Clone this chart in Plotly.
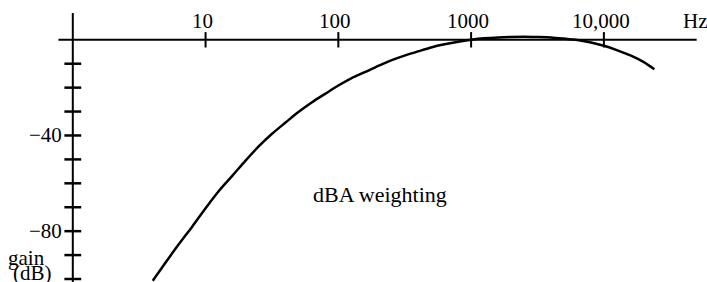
import math
import plotly.graph_objects as go

# ---- data ----
freq_hz = [4, 5, 6.3, 8, 10, 12.5, 16, 20, 25, 31.5, 40, 50, 63, 80, 100, 125, 160,
           200, 250, 315, 400, 500, 630, 800, 1000, 1250, 1600, 2000, 2500, 3150,
           4000, 5000, 6300, 8000, 10000, 12500, 16000, 20000, 24000]
gain_db = [-100.7, -93.1, -85.4, -77.8, -70.4, -63.4, -56.7, -50.5, -44.7, -39.4,
           -34.6, -30.2, -26.2, -22.5, -19.1, -16.1, -13.4, -10.9, -8.6, -6.6, -4.8,
           -3.2, -1.9, -0.8, 0.0, 0.6, 1.0, 1.2, 1.3, 1.2, 1.0, 0.5, -0.1, -1.1,
           -2.5, -4.3, -6.6, -9.3, -12.3]

x_tick_vals = [10, 100, 1000, 10000]
x_tick_text = ["10", "100", "1000", "10,000"]
y_tick_vals = [-10, -20, -30, -40, -50, -60, -70, -80, -90, -100]
y_label_vals = [-40, -80]
y_label_text = ["−40", "−80"]
x_axis_span = [0.78, 50000]     # Hz
y_axis_span = [-106, 11.2]      # dB

W, H = 707, 282
OFF = 0          # body margin removed below
FONT = "Liberation Serif"


def px(sx):
    return (sx - OFF) / W


def py(sy):
    return 1 - (sy - OFF) / H


fig = go.Figure()

# axes lines
fig.add_trace(go.Scatter(x=x_axis_span, y=[0, 0], mode="lines",
                         line=dict(color="black", width=2), hoverinfo="skip"))
fig.add_trace(go.Scatter(x=[1, 1], y=y_axis_span, mode="lines",
                         line=dict(color="black", width=2), hoverinfo="skip"))
# ticks crossing the axes
fig.add_trace(go.Scatter(x=x_tick_vals, y=[0] * len(x_tick_vals), mode="markers",
                         marker=dict(symbol="line-ns", size=11,
                                     line=dict(color="black", width=2)),
                         hoverinfo="skip"))
fig.add_trace(go.Scatter(x=[1] * len(y_tick_vals), y=y_tick_vals, mode="markers",
                         marker=dict(symbol="line-ew", size=12,
                                     line=dict(color="black", width=2.5)),
                         hoverinfo="skip"))
# the curve
fig.add_trace(go.Scatter(x=freq_hz, y=gain_db, mode="lines",
                         line=dict(color="black", width=2.5, shape="spline",
                                   smoothing=0.8),
                         hoverinfo="skip"))

annotations = []
for v, t in zip(x_tick_vals, x_tick_text):
    annotations.append(dict(x=math.log10(v), y=0, xref="x", yref="y", text=t,
                            showarrow=False, xanchor="center", yanchor="middle",
                            xshift=-3, yshift=19,
                            font=dict(family=FONT, size=21, color="black")))
annotations.append(dict(x=px(695), y=py(21), xref="paper", yref="paper",
                        text="Hz", showarrow=False, xanchor="center",
                        yanchor="middle",
                        font=dict(family=FONT, size=21, color="black")))
for v, t in zip(y_label_vals, y_label_text):
    annotations.append(dict(x=0, y=v, xref="x", yref="y", text=t,
                            showarrow=False, xanchor="right", yanchor="middle",
                            xshift=-9,
                            font=dict(family=FONT, size=21, color="black")))
annotations.append(dict(x=px(26), y=py(258), xref="paper", yref="paper",
                        text="gain", showarrow=False, xanchor="center",
                        yanchor="middle",
                        font=dict(family=FONT, size=21, color="black")))
annotations.append(dict(x=px(32), y=py(273), xref="paper", yref="paper",
                        text="(dB)", showarrow=False, xanchor="center",
                        yanchor="middle",
                        font=dict(family=FONT, size=21, color="black")))
annotations.append(dict(x=px(380), y=py(194), xref="paper", yref="paper",
                        text="dBA weighting", showarrow=False, xanchor="center",
                        yanchor="middle",
                        font=dict(family=FONT, size=22, color="black")))

# screen geometry of the reference
dec = 132.77      # px per decade
x1hz = 72.8       # screen x of 1 Hz
ppd = 2.392       # px per dB
y0db = 39.8       # screen y of 0 dB
r0 = (OFF - x1hz) / dec
r1 = (OFF + W - x1hz) / dec
y_top = (y0db - OFF) / ppd
y_bot = -(OFF + H - y0db) / ppd

fig.update_layout(
    width=W, height=H,
    margin=dict(l=0, r=0, t=0, b=0),
    paper_bgcolor="white", plot_bgcolor="white",
    showlegend=False,
    xaxis=dict(type="log", range=[r0, r1], visible=False, fixedrange=True),
    yaxis=dict(range=[y_bot, y_top], visible=False, fixedrange=True),
    annotations=annotations,
)

fig.write_html(
    "out.html",
    config={"displayModeBar": False},
    post_script="document.body.style.margin='0';document.body.style.overflow='hidden';",
)
